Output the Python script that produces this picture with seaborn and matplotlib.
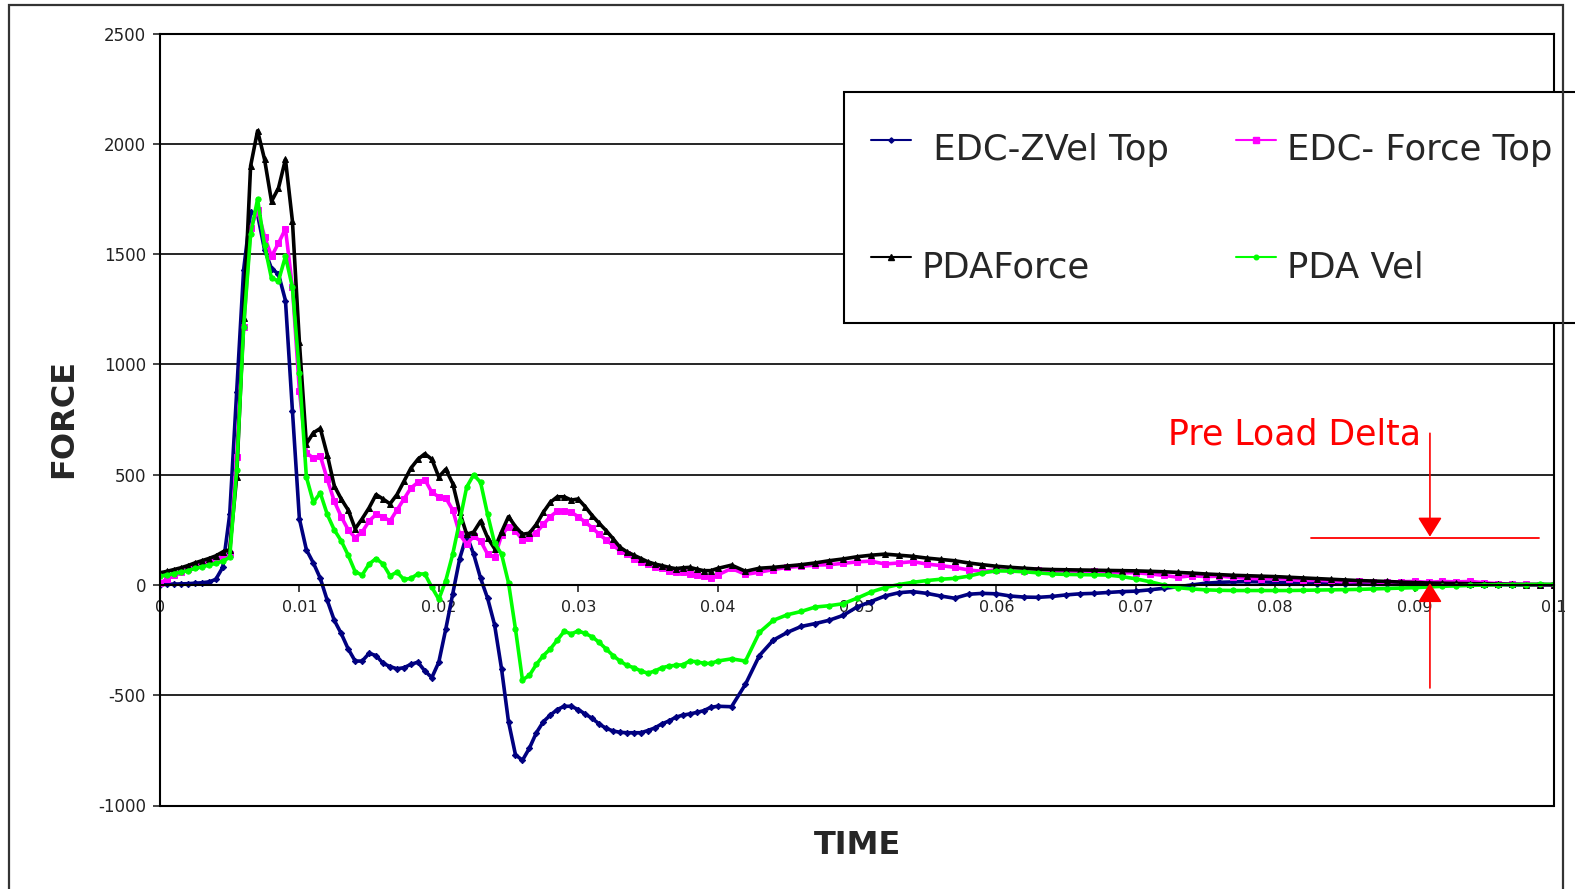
import numpy as np
import matplotlib
matplotlib.use("Agg")
import matplotlib.pyplot as plt
from matplotlib.lines import Line2D
from matplotlib.patches import Rectangle
import seaborn as sns

sns.set_style("white")
plt.rcParams["font.family"] = ["DejaVu Sans"]
plt.rcParams["axes.unicode_minus"] = False

# sample times: 0.5 ms steps up to 40 ms, then 1 ms steps
time_fine = np.round(np.arange(0, 0.04 + 1e-9, 0.0005), 4)
time_coarse = np.round(np.arange(0.041, 0.1 + 1e-9, 0.001), 3)
time = np.concatenate([time_fine, time_coarse])

# EDC-ZVel Top
edc_zvel_top = np.array([
    2, 3, 4, 5, 6, 8, 10, 14, 25, 80,
    320, 876, 1430, 1690, 1680, 1520, 1435, 1410, 1290, 790,
    300, 160, 100, 30, -70, -160, -220, -290, -345, -345,
    -310, -320, -355, -370, -380, -375, -360, -350, -390, -420,
    -350, -200, -40, 120, 225, 140, 30, -60, -180, -380,
    -620, -770, -795, -740, -670, -620, -590, -565, -550, -550,
    -565, -585, -605, -630, -650, -662, -668, -670, -670, -670,
    -660, -648, -630, -617, -600, -590, -585, -578, -570, -555,
    -550,
    -552, -450, -320, -250, -215, -188, -175, -160, -138, -100,
    -75, -50, -35, -30, -38, -50, -60, -42, -38, -40,
    -50, -55, -56, -52, -45, -40, -38, -34, -30, -28,
    -22, -15, -8, 0, 8, 12, 14, 15, 14, 12,
    10, 8, 6, 5, 4, 4, 3, 3, 3, 2,
    2, 2, 2, 2, 2, 2, 1, 1, 1, 1,
])

# EDC- Force Top
edc_force_top = np.array([
    10, 25, 45, 60, 72, 85, 95, 105, 115, 128,
    140, 580, 1170, 1620, 1700, 1580, 1490, 1550, 1615, 1350,
    880, 600, 575, 585, 480, 380, 310, 250, 215, 240,
    290, 320, 310, 290, 340, 390, 440, 465, 478, 420,
    400, 395, 340, 230, 185, 220, 200, 140, 125, 225,
    265, 245, 205, 215, 238, 275, 310, 335, 335, 330,
    310, 285, 260, 230, 205, 180, 155, 140, 120, 105,
    95, 80, 75, 65, 60, 58, 50, 45, 40, 30,
    45,
    75, 48, 58, 70, 80, 85, 90, 92, 98, 105,
    108, 95, 100, 106, 95, 88, 80, 68, 62, 68,
    66, 64, 66, 62, 64, 60, 62, 58, 55, 56,
    50, 44, 35, 42, 38, 40, 35, 30, 28, 30,
    25, 20, 22, 18, 14, 16, 14, 12, 15, 16,
    12, 16, 14, 16, 10, 6, 4, 3, 2, 2,
])

# PDAForce
pda_force = np.array([
    55, 62, 70, 78, 88, 100, 110, 120, 132, 150,
    160, 490, 1210, 1900, 2060, 1930, 1740, 1800, 1930, 1650,
    1100, 640, 690, 710, 590, 450, 390, 340, 255, 300,
    350, 410, 390, 368, 410, 470, 530, 570, 595, 570,
    490, 525, 460, 330, 230, 240, 290, 215, 165, 240,
    310, 265, 230, 235, 275, 330, 375, 400, 400, 385,
    390, 355, 315, 280, 247, 210, 171, 150, 135, 120,
    105, 95, 88, 80, 74, 78, 80, 72, 65, 65,
    75,
    90, 62, 76, 80, 86, 92, 100, 110, 118, 128,
    135, 140, 135, 130, 122, 116, 110, 100, 92, 85,
    80, 76, 72, 70, 69, 68, 67, 66, 65, 64,
    62, 60, 57, 54, 50, 47, 44, 42, 40, 38,
    35, 32, 29, 26, 23, 20, 18, 16, 13, 11,
    9, 8, 7, 6, 5, 4, 3, 2, 2, 1,
])

# PDA Vel
pda_vel = np.array([
    40, 45, 52, 58, 65, 75, 82, 90, 98, 108,
    125, 520, 1170, 1590, 1750, 1540, 1390, 1380, 1490, 1350,
    960, 490, 375, 417, 320, 250, 200, 135, 60, 45,
    95, 120, 95, 42, 58, 25, 30, 50, 50, -10,
    -65, 20, 140, 290, 444, 500, 465, 320, 190, 140,
    10, -200, -430, -410, -360, -320, -290, -250, -210, -222,
    -208, -220, -235, -260, -290, -320, -345, -365, -375, -390,
    -400, -390, -375, -368, -364, -362, -345, -348, -355, -356,
    -345,
    -335, -345, -215, -160, -135, -120, -100, -94, -85, -60,
    -32, -12, 2, 12, 20, 26, 30, 40, 55, 64,
    63, 60, 55, 50, 48, 47, 46, 45, 38, 28,
    15, 0, -12, -18, -22, -24, -25, -25, -25, -25,
    -25, -24, -23, -22, -21, -20, -18, -16, -14, -12,
    -9, -6, -4, -2, 0, 1, 2, 2, 3, 3,
])

for arr in (edc_zvel_top, edc_force_top, pda_force, pda_vel):
    assert len(arr) == len(time), (len(arr), len(time))

series_names = [" EDC-ZVel Top", "EDC- Force Top", "PDAForce", "PDA Vel"]
series_colors = ["#000080", "#FF00FF", "#000000", "#00FF00"]
series_markers = ["D", "s", "^", "o"]
series_sizes = [3.2, 4.2, 4.2, 3.8]

x_ticks = [0, 0.01, 0.02, 0.03, 0.04, 0.05, 0.06, 0.07, 0.08, 0.09, 0.1]
x_tick_labels = ["0", "0.01", "0.02", "0.03", "0.04", "0.05", "0.06",
                 "0.07", "0.08", "0.09", "0.1"]
y_ticks = [-1000, -500, 0, 500, 1000, 1500, 2000, 2500]
y_tick_labels = ["-1000", "-500", "0", "500", "1000", "1500", "2000", "2500"]

W, H = 1575, 889
fig = plt.figure(figsize=(W / 100, H / 100), dpi=100)
fig.patch.set_facecolor("white")
ax = fig.add_axes([160 / W, 1 - 805.5 / H, (1554 - 160) / W, (805.5 - 33.7) / H])

series_values = [edc_zvel_top, edc_force_top, pda_force, pda_vel]
handles = []
for name, vals, col, mk, ms in zip(series_names, series_values, series_colors,
                                   series_markers, series_sizes):
    sns.lineplot(x=time, y=vals, ax=ax, color=col, marker=mk, markersize=ms,
                 markeredgewidth=0.7, markeredgecolor=col, linewidth=2.6,
                 legend=False)
    handles.append(Line2D([], [], color=col, lw=1.5, marker=mk,
                          markersize=ms - 0.5, markeredgecolor=col))

ax.set_xlim(0, 0.1)
ax.set_ylim(-1000, 2500)
ax.set_xticks(x_ticks)
ax.set_xticklabels(x_tick_labels)
ax.set_yticks(y_ticks)
ax.set_yticklabels(y_tick_labels)
ax.set_xlabel("")
ax.set_ylabel("")

ax.spines["bottom"].set_position(("data", 0))
for side in ["left", "right", "top", "bottom"]:
    ax.spines[side].set_visible(True)
    ax.spines[side].set_color("black")
    ax.spines[side].set_linewidth(1.5)
ax.axhline(-1000, color="black", lw=1.5, clip_on=False, zorder=1)

ax.yaxis.grid(True, color="black", linewidth=1.2)
ax.xaxis.grid(False)
ax.set_axisbelow(True)
ax.tick_params(axis="x", direction="out", length=5, width=1.2, pad=6,
               labelsize=11.5, labelcolor="#222222", bottom=True)
ax.tick_params(axis="y", direction="out", length=5, width=1.2, pad=5,
               labelsize=12, labelcolor="#222222", left=True)

# legend in two columns: row 1 EDC series, row 2 PDA series
order = [0, 2, 1, 3]
leg = ax.legend([handles[i] for i in order], [series_names[i] for i in order],
                ncol=2, loc="upper left",
                bbox_to_anchor=(844 / W, 1 - 92.4 / H),
                bbox_transform=fig.transFigure, frameon=True, fancybox=False,
                framealpha=1, edgecolor="black", fontsize=25.5,
                handlelength=1.13, handleheight=2.25, handletextpad=0.31,
                columnspacing=1.9, labelspacing=1.6, borderpad=0.75,
                borderaxespad=0)
leg.get_frame().set_linewidth(1.5)

# pre-load delta annotation
ax.text(0.08135, 635, "Pre Load Delta", color="red", fontsize=25,
        ha="center", va="baseline")
ax.plot([0.0826, 0.0989], [214, 214], color="red", lw=1.3, zorder=6)
arrow_style = dict(arrowstyle="-|>,head_length=0.8,head_width=0.5",
                   color="red", lw=1.2, shrinkA=0, shrinkB=0, mutation_scale=15)
ax.annotate("", xy=(0.0911, 219), xytext=(0.0911, 688),
            arrowprops=arrow_style, zorder=6)
ax.annotate("", xy=(0.0911, 9), xytext=(0.0911, -467),
            arrowprops=arrow_style, zorder=6)

fig.text(64 / W, 1 - 418 / H, "FORCE", rotation=90, fontsize=23,
         fontweight="bold", ha="center", va="center")
fig.text(858 / W, 1 - 845 / H, "TIME", fontsize=23, fontweight="bold",
         ha="center", va="center")

# outer chart frame
fig.add_artist(Rectangle((9 / W, -0.05), (1563 - 9) / W, 1.05 - 5 / H,
                         transform=fig.transFigure, fill=False,
                         edgecolor="#333333", linewidth=1.6))

fig.savefig("out.png", dpi=100)
